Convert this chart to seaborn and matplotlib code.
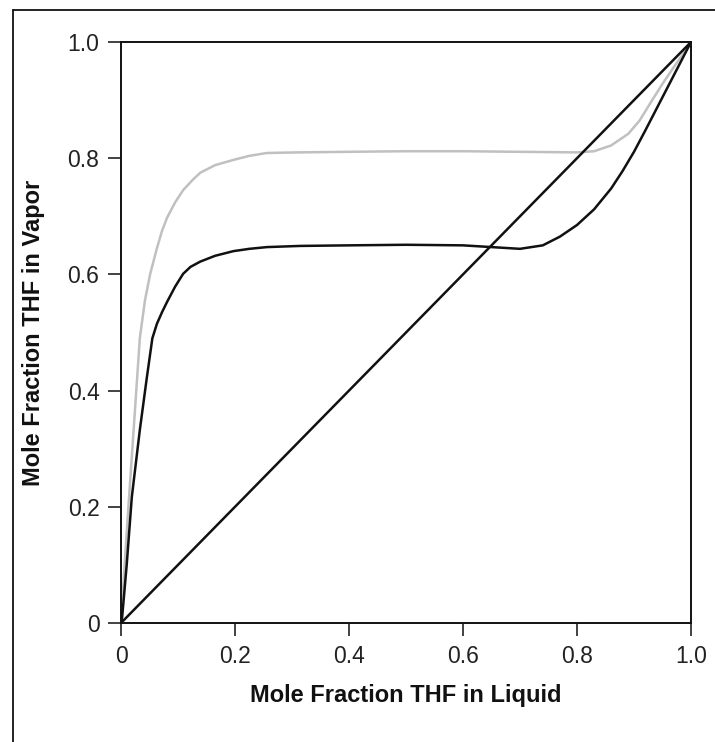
import matplotlib
matplotlib.use("Agg")
import matplotlib.pyplot as plt
import seaborn as sns
from matplotlib.lines import Line2D

# Data
diag_x = [0.0, 1.0]
diag_y = [0.0, 1.0]

black_x = [0, 0.002, 0.01, 0.019, 0.033, 0.045, 0.055, 0.063, 0.072, 0.081, 0.095,
           0.109, 0.122, 0.139, 0.165, 0.197, 0.225, 0.256, 0.314, 0.4, 0.5, 0.6,
           0.65, 0.7, 0.74, 0.77, 0.8, 0.83, 0.86, 0.88, 0.9, 0.92, 0.94, 0.96,
           0.98, 1.0]
black_y = [0, 0.01, 0.1, 0.217, 0.332, 0.42, 0.49, 0.515, 0.535, 0.553, 0.579,
           0.601, 0.613, 0.622, 0.632, 0.640, 0.644, 0.647, 0.649, 0.65, 0.651,
           0.65, 0.647, 0.644, 0.65, 0.665, 0.685, 0.712, 0.748, 0.778, 0.811,
           0.848, 0.886, 0.924, 0.962, 1.0]

gray_x = [0, 0.005, 0.013, 0.022, 0.033, 0.042, 0.051, 0.063, 0.072, 0.081, 0.095,
          0.109, 0.125, 0.139, 0.165, 0.197, 0.225, 0.256, 0.31, 0.4, 0.5, 0.6,
          0.7, 0.8, 0.83, 0.86, 0.89, 0.91, 0.93, 0.95, 0.97, 0.985, 1.0]
gray_y = [0, 0.08, 0.2, 0.33, 0.49, 0.555, 0.6, 0.645, 0.675, 0.698, 0.724,
          0.745, 0.762, 0.775, 0.788, 0.797, 0.804, 0.809, 0.81, 0.811, 0.812,
          0.812, 0.811, 0.81, 0.812, 0.822, 0.842, 0.865, 0.897, 0.928, 0.957,
          0.978, 1.0]

ticks = [0, 0.2, 0.4, 0.6, 0.8, 1.0]
tick_labels = ["0", "0.2", "0.4", "0.6", "0.8", "1.0"]

sns.set_style("white")
plt.rcParams["font.family"] = ["Liberation Sans", "DejaVu Sans"]

fig = plt.figure(figsize=(7.15, 7.42), dpi=100)
ax = fig.add_axes([121/715, 1-623/742, 570/715, 581/742])

sns.lineplot(x=gray_x, y=gray_y, ax=ax, color="#c0c0c0", linewidth=1.8,
             sort=False, estimator=None)
sns.lineplot(x=black_x, y=black_y, ax=ax, color="#111111", linewidth=1.8,
             sort=False, estimator=None)
sns.lineplot(x=diag_x, y=diag_y, ax=ax, color="#111111", linewidth=1.8,
             sort=False, estimator=None)

ax.set_xlim(0, 1)
ax.set_ylim(0, 1)
ax.set_xticks(ticks)
ax.set_xticklabels(tick_labels)
ax.set_yticks(ticks)
ax.set_yticklabels(tick_labels)
ax.tick_params(axis="both", direction="out", length=9.5, width=1.2, pad=6,
               labelsize=16.5, colors="#222222", bottom=True, left=True)
for s in ax.spines.values():
    s.set_color("#111111")
    s.set_linewidth(1.4)

ax.set_xlabel("Mole Fraction THF in Liquid", fontsize=17, fontweight="bold",
              color="#111111", labelpad=12)
ax.set_ylabel("Mole Fraction THF in Vapor", fontsize=17, fontweight="bold",
              color="#111111", labelpad=16)

# outer frame (left and top edges visible)
x0 = 13/715
y1 = 1 - 10/742
fig.add_artist(Line2D([x0, x0], [-0.05, y1], transform=fig.transFigure,
                      color="#111111", linewidth=1.3))
fig.add_artist(Line2D([x0, 1.05], [y1, y1], transform=fig.transFigure,
                      color="#111111", linewidth=1.3))

fig.savefig("out.png", dpi=100)
